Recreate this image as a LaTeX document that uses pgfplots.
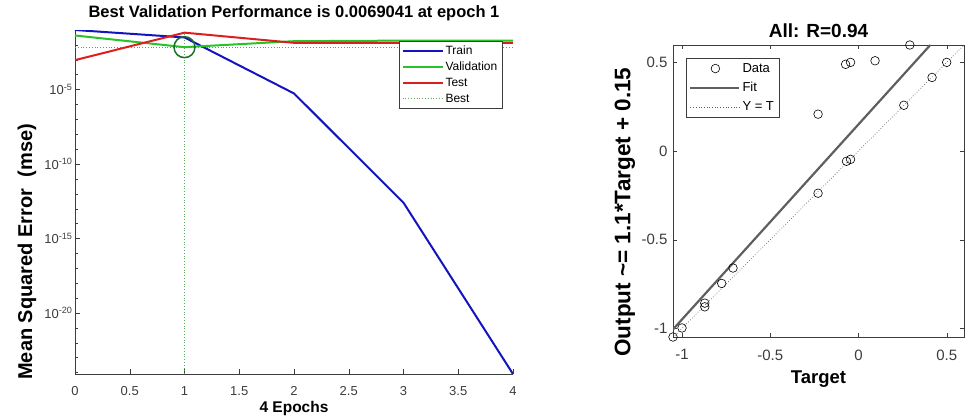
\documentclass[border=0pt]{standalone}
\usepackage{fontspec}
\setmainfont{Liberation Sans}
\usepackage{pgfplots}
\pgfplotsset{compat=1.18}
\definecolor{trainc}{RGB}{20,20,190}
\definecolor{valc}{RGB}{40,195,40}
\definecolor{testc}{RGB}{220,30,30}
\definecolor{bestc}{RGB}{90,170,90}
\definecolor{circc}{RGB}{25,110,35}
\definecolor{fitc}{RGB}{95,95,95}
\definecolor{axc}{RGB}{60,60,60}

\begin{document}
\begin{tikzpicture}[x=1pt,y=1pt]
\path[use as bounding box] (0,0) rectangle (980,419);

% performance plot
\begin{axis}[
  at={(75pt,45pt)}, anchor=south west, scale only axis,
  width=438pt, height=344pt,
  ymode=log, xmin=0, xmax=4, ymin=7.9e-25, ymax=0.098,
  axis x line*=bottom, axis y line*=left,
  x axis line style={-, axc}, y axis line style={-, axc},
  tick align=inside, major tick length=5pt, minor tick length=3pt,
  tick style={axc},
  xtick={0,0.5,...,4},
  ytick={1e-5,1e-10,1e-15,1e-20},
  yticklabels={10\textsuperscript{-5},10\textsuperscript{-10},10\textsuperscript{-15},10\textsuperscript{-20}},
  minor ytick={1e-2,1e-3,1e-4,1e-6,1e-7,1e-8,1e-9,1e-11,1e-12,1e-13,1e-14,1e-16,1e-17,1e-18,1e-19,1e-21,1e-22,1e-23,1e-24},
  /pgf/number format/assume math mode=true,
  tick label style={font=\fontsize{13}{15}\selectfont, text=axc},
  xticklabel style={yshift=-9pt},
  yticklabel style={xshift=1pt},
  title={\textbf{Best Validation Performance is 0.0069041 at epoch 1}},
  title style={font=\fontsize{16.5}{18}\selectfont, at={(axis description cs:0.5,1.049)}, anchor=center, yshift=-6pt},
  xlabel={\textbf{4 Epochs}},
  xlabel style={font=\fontsize{15.5}{17}\selectfont, at={(axis description cs:0.5,-0.099)}, anchor=center},
  ylabel={\textbf{Mean Squared Error\ \ (mse)}},
  ylabel style={font=\fontsize{20}{22}\selectfont, at={(axis description cs:-0.1096,0.355)}, anchor=center},
  legend style={at={(axis description cs:0.975,0.968)}, anchor=north east,
    fill=white, draw=axc, font=\fontsize{12}{14}\selectfont,
    inner sep=2.5pt, row sep=2pt, text=black},
  legend cell align=left,
  legend image code/.code={\draw[#1] (0pt,0pt) -- (40pt,0pt);},
]
\addplot[valc, dotted, line width=0.8pt, forget plot] coordinates {(0,0.0069041) (4,0.0069041)};
\addplot[bestc, dotted, line width=0.8pt, forget plot] coordinates {(1,7.9e-25) (1,0.098)};
\addplot[trainc, line width=2pt] coordinates {(0,0.098) (1,0.031) (2,5.4e-6) (3,2.5e-13) (4,7.9e-25)};
\addlegendentry{Train}
\addplot[valc, line width=2pt] coordinates {(0,0.042) (1,0.0069041) (2,0.0174) (3,0.019) (4,0.019)};
\addlegendentry{Validation}
\addplot[testc, line width=2pt] coordinates {(0,0.00093) (1,0.065) (2,0.0135) (3,0.0135) (4,0.0135)};
\addlegendentry{Test}
\addlegendimage{bestc, dotted, line width=0.8pt}
\addlegendentry{Best}
\addplot[only marks, mark=o, mark size=10.5pt, circc, line width=1.5pt, forget plot] coordinates {(1,0.0069041)};
\end{axis}

% regression plot
\begin{axis}[
  at={(673pt,82pt)}, anchor=south west, scale only axis,
  width=291pt, height=292pt,
  xmin=-1.051, xmax=0.598, ymin=-1.049, ymax=0.598,
  axis line style={axc},
  tick align=inside, major tick length=4pt,
  tick style={axc},
  xtick={-1,-0.5,0,0.5}, ytick={-1,-0.5,0,0.5},
  /pgf/number format/assume math mode=true,
  tick label style={font=\fontsize{15}{17}\selectfont, text=axc},
  xticklabel style={yshift=-9pt},
  yticklabel style={xshift=-2pt},
  title={\textbf{All: R=0.94}},
  title style={font=\fontsize{19}{21}\selectfont, at={(axis description cs:0.5,1.049)}, anchor=center, yshift=-6pt},
  xlabel={\textbf{Target}},
  xlabel style={font=\fontsize{18.5}{20}\selectfont, at={(axis description cs:0.5,-0.144)}, anchor=center},
  ylabel={\textbf{Output \textasciitilde= 1.1*Target + 0.15}},
  ylabel style={font=\fontsize{22.5}{24}\selectfont, at={(axis description cs:-0.165,0.428)}, anchor=center},
  legend style={at={(axis description cs:0.045,0.955)}, anchor=north west,
    fill=white, draw=axc, font=\fontsize{13}{15}\selectfont,
    inner sep=3pt, row sep=4.5pt, text=black},
  legend cell align=left,
  legend image code/.code={\draw[#1] (0pt,0pt) -- (49pt,0pt);},
]
\addplot[only marks, mark=o, mark size=4.3pt, black, line width=0.6pt,
  legend image code/.code={\draw[##1] plot coordinates {(25pt,0pt)};}]
  coordinates {
  (0.291,0.598) (-0.073,0.489) (-0.045,0.500) (0.094,0.509) (0.500,0.500)
  (0.417,0.415) (0.257,0.258) (-0.229,0.208) (-0.068,-0.058) (-0.045,-0.047)
  (-0.229,-0.238) (-0.711,-0.660) (-0.775,-0.747) (-0.871,-0.858) (-0.871,-0.879)
  (-1.000,-0.998) (-1.051,-1.049)
};
\addlegendentry{Data}
\addplot[fitc, line width=2.2pt] coordinates {(-1.051,-1.006) (0.407,0.598)};
\addlegendentry{Fit}
\addplot[fitc, dotted, line width=0.7pt] coordinates {(-1.051,-1.051) (0.598,0.598)};
\addlegendentry{Y = T}
\end{axis}
\end{tikzpicture}
\end{document}
